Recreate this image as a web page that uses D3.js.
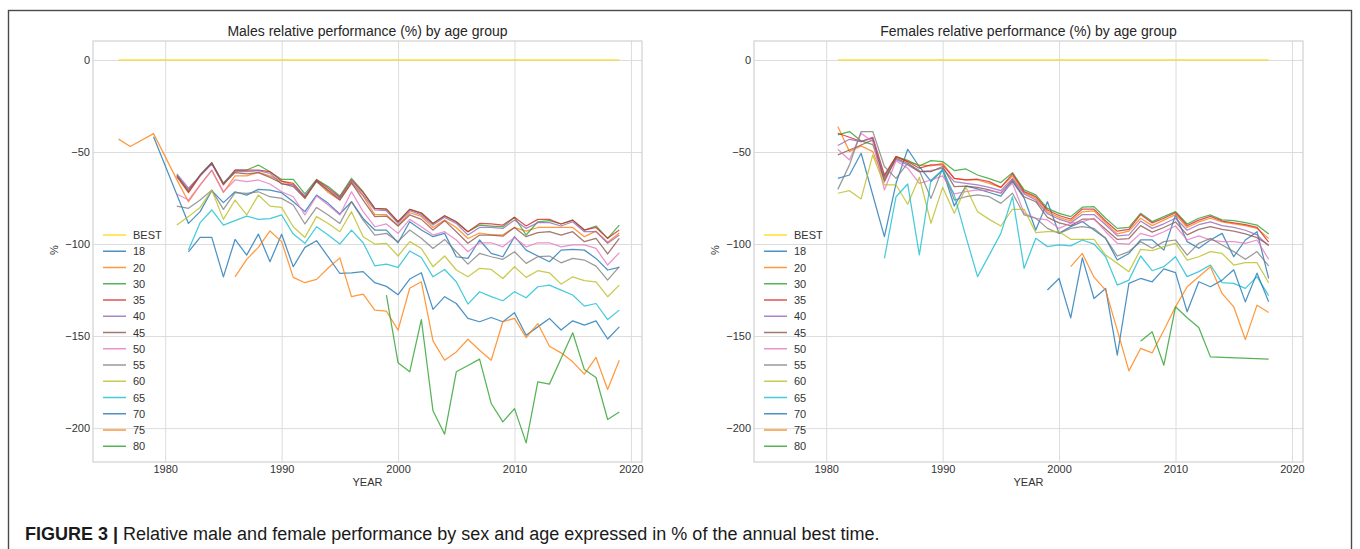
<!DOCTYPE html>
<html>
<head>
<meta charset="utf-8">
<script src="https://cdnjs.cloudflare.com/ajax/libs/d3/7.8.5/d3.min.js"></script>
<style>
body { margin: 0; background: #fff; }
svg text { font-family: "Liberation Sans", Arial, sans-serif; }
</style>
</head>
<body>
<svg id="fig" width="1360" height="549"></svg>
<script>
// ---- data ----
const ageGroups = ["BEST", "18", "20", "30", "35", "40", "45", "50", "55", "60", "65", "70", "75", "80"];
const lineColors = ["#ffd700", "#1f77b4", "#ff7f0e", "#2ca02c", "#d62728", "#9467bd", "#8c564b",
                    "#e377c2", "#7f7f7f", "#bcbd22", "#17becf", "#1f77b4", "#ff7f0e", "#2ca02c"];
const xTicks = [1980, 1990, 2000, 2010, 2020];
const yTicks = [0, -50, -100, -150, -200];

const maleYears = [1976, 1977, 1978, 1979, 1980, 1981, 1982, 1983, 1984, 1985, 1986, 1987, 1988, 1989,
  1990, 1991, 1992, 1993, 1994, 1995, 1996, 1997, 1998, 1999, 2000, 2001, 2002, 2003, 2004, 2005,
  2006, 2007, 2008, 2009, 2010, 2011, 2012, 2013, 2014, 2015, 2016, 2017, 2018, 2019];

const mBest = [0,0,0,0,0,0,0,0,0,0,0,0,0,0,0,0,0,0,0,0,0,0,0,0,0,0,0,0,0,0,0,0,0,0,0,0,0,0,0,0,0,0,0,0];
const m18 = [null,null,null,-41.7,null,null,-88.8,-82.4,-71,-77.5,-71.6,-73.4,-70.3,-70.7,-72.1,-77,-82.4,-73.4,-77.9,-83.7,-77,
  -86.1,-92.4,-92.4,-99.3,-87.9,-92.4,-96,-94.2,-106.9,-107.8,-97.8,-105.1,-106.9,-96,-103.3,-106.5,-109.6,-103.3,-102.9,-103.3,-107.8,-114.1,-112.7];
const m20 = [-43,-47,null,-40,null,-65,-77,-68,-60,-72,-63,-63,-61,-63,-66,-68,-75,-66,-72,-76,-67,
  -74,-84,-84,-90,-83,-85,-91,-87,-91,-97,-94,-95,-95,-91,-93,-91,-91,-91,-91,-96,-93,-99,-94];
const m30 = [null,null,null,null,null,-62.5,-71.6,-62.5,-55.8,-67,-59.8,-59.8,-57.1,-60.7,-64.9,-64.9,-72.8,-64.9,-68.8,-73.9,-64.3,
  -71.6,-80.6,-81,-87.9,-81.2,-83,-88.8,-84.6,-87.9,-93.3,-89.7,-90.2,-90.6,-85.5,-95.1,-87.9,-87.3,-89.1,-87,-92.4,-90.2,-96.9,-89.7];
const m35 = [null,null,null,null,null,-63.4,-72.1,-63,-56.2,-67.9,-59.8,-59.8,-59.8,-60.7,-65.8,-67,-74.3,-65.2,-69.7,-74.6,-65.2,
  -72.1,-80.6,-81,-87.9,-81.2,-83.3,-88.8,-84.6,-87.9,-93.3,-88.8,-89.1,-89.7,-85.5,-90.2,-86.6,-86.6,-89.1,-87,-92.4,-91,-96.9,-92.4];
const m40 = [null,null,null,null,null,-61.9,-69.7,-63,-56.5,-67,-60.7,-60.7,-60.1,-61.6,-67.4,-67.9,-73.9,-66.1,-70.7,-75.2,-66.1,
  -73.4,-81.5,-81.9,-88.8,-81.9,-84.2,-89.7,-85.5,-88.8,-95.1,-91,-91,-91.5,-87,-91.5,-88.4,-88.4,-90.2,-87.9,-93.3,-93.3,-99.6,-95.1];
const m45 = [null,null,null,null,null,-63,-70.7,-62.5,-55.8,-67.4,-61.2,-61.9,-61.2,-63.8,-67,-68.8,-75.2,-65.6,-71,-76.1,-66.7,
  -76.1,-85.1,-84.8,-90.2,-84.2,-86.6,-92.4,-87.3,-93.3,-99.6,-95.1,-95.1,-95.7,-91,-96,-93.8,-93.3,-95.1,-93.3,-98.7,-96.9,-105.4,-96.9];
const m50 = [null,null,null,null,null,-72.8,-76.1,-67.9,-59.8,-71.6,-65.2,-66.1,-65.2,-67.4,-71.6,-74.3,-84.2,-73.9,-78.8,-84.2,-71.6,
  -82.4,-90.6,-89.1,-94.2,-86.6,-90.6,-95.1,-93.3,-97.8,-104.2,-99.3,-99.3,-101.5,-96.4,-101.5,-99.3,-99.3,-101.5,-100.5,-100.5,-102.4,-111.4,-104.7];
const m55 = [null,null,null,null,null,-79.4,-80.6,-76.1,-70.7,-81.2,-72.1,-72.5,-71.6,-74.3,-75.2,-78.8,-89.1,-80.1,-84.2,-88.8,-77,
  -87,-95.1,-94.2,-98.7,-92.4,-96.9,-102.4,-97.5,-104.2,-110.9,-105.1,-106.9,-108.3,-104.2,-110.5,-106.9,-106.5,-110.2,-107.8,-108.7,-112,-119.6,-112.3];
const m60 = [null,null,null,null,null,-89.7,-85.1,-80.1,-70.7,-86.6,-76.1,-84.2,-73.4,-79.4,-80.1,-90.6,-96.4,-85.1,-88.8,-93.3,-82.4,
  -96,-100,-99.6,-106.5,-98.7,-102.4,-112.3,-106.5,-114.1,-117.8,-113.2,-113.8,-118.7,-112.3,-118.1,-114.5,-115.6,-121.8,-117.8,-119.9,-120.5,-128.6,-122.3];
const m65 = [null,null,null,null,null,null,-103.3,-88.4,-81.5,-89.7,-87.3,-84.8,-86.6,-86.2,-84.2,-94.6,-99.6,-90.6,-95.1,-100,-92.4,
  -99.3,-111.8,-110.9,-112.7,-103.8,-107.3,-117.8,-113.8,-120.5,-132.6,-125.9,-128.6,-130.8,-125.9,-129.2,-123.2,-122.3,-125,-127.7,-133.7,-132.3,-141,-135.9];
const m70 = [null,null,null,null,null,null,-104.2,-96.4,-96.4,-117.8,-97.5,-106,-94.6,-109.6,-94.7,-112.3,-101.8,-98.2,-107,-116,-115.6,
  -115,-121,-123,-127.5,-119,-115.6,-135.5,-128.6,-132.3,-140.4,-142.2,-139.9,-142.2,-137.3,-149.5,-145,-140.4,-146.7,-141.7,-144,-141.7,-151.6,-145];
const m75 = [null,null,null,null,null,null,null,null,null,null,-117.8,-108.3,-101.8,-92.9,-98.7,-118.1,-121,-119.2,-113,-107.5,-128.6,
  -127.2,-135.9,-136.5,-146.8,-124,-120.5,-152.6,-163.1,-158.6,-151.7,-157.7,-163.1,-142.2,-140.4,-150.8,-143.2,-155.5,-159.1,-164,-170.7,-161.6,-179,-163.1];
const m80 = [null,null,null,null,null,null,null,null,null,null,null,null,null,null,null,null,null,null,null,null,null,
  null,null,-127.8,-164.5,-169.4,-141,-190.6,-203.3,-169.4,-166,-162.5,-186.6,-196.6,-189.4,-208,-174.9,-176.1,-162.2,-148.2,-168.2,-172.5,-195.3,-191.2];

const femaleYears = [1981, 1982, 1983, 1984, 1985, 1986, 1987, 1988, 1989, 1990, 1991, 1992, 1993, 1994,
  1995, 1996, 1997, 1998, 1999, 2000, 2001, 2002, 2003, 2004, 2005, 2006, 2007, 2008, 2009, 2010,
  2011, 2012, 2013, 2014, 2015, 2016, 2017, 2018];

const fBest = [0,0,0,0,0,0,0,0,0,0,0,0,0,0,0,0,0,0,0,0,0,0,0,0,0,0,0,0,0,0,0,0,0,0,0,0,0,0];
const f18 = [-64.3,-62.5,-50.7,null,-96,-67,-48.5,-58,-66,-59.8,-79.3,-68.5,-70,-72,-74,-66,-75,-92.4,
  -77,-94.2,-90.5,-87.8,-92.4,-96.9,-108.7,-105.1,-97.8,-97.8,-103.3,-84.2,-98.7,-102.3,-97.8,-94.2,-106.9,-97.8,-93.3,-118.6];
const f20 = [-36.2,-49.8,-46.7,-49.8,-65.2,-52.5,-55.2,-57,-57.6,-56.1,-64.3,-65.2,-65.2,-67,-69.2,-63,-72.1,-75.2,
  -82.5,-85.5,-87.5,-82.5,-82,-88.5,-94.5,-93,-86,-90,-87,-84,-91,-88,-86,-88,-89,-90,-91.5,-97];
const f30 = [-40.7,-38.9,-44,-46,-63.4,-52.5,-54.5,-57.6,-54.7,-55.2,-60.1,-59.2,-62.5,-64.5,-66.6,-61.2,-70.6,-73.3,
  -80.6,-83.3,-85.1,-80,-79.7,-86,-91.5,-90.9,-83.3,-87.8,-85.1,-82.4,-89.1,-86,-84.2,-86.9,-87.3,-88.4,-89.7,-94.5];
const f35 = [-39.8,-42,-44.4,-42,-62.5,-52.5,-55.2,-58.8,-57,-57,-64.3,-65.2,-64.8,-66.1,-69.2,-61.9,-71.5,-74.2,
  -81.5,-84.5,-86.5,-81,-81,-87.5,-93,-92,-84,-88.5,-86,-83,-90,-87,-85,-87.5,-88.5,-89.5,-91,-99];
const f40 = [-46.5,-43.1,-44.4,-42.5,-64.3,-54,-57,-60.7,-60.1,-58.8,-66.1,-67,-67.9,-69.2,-71,-64.3,-72.8,-76.1,
  -83.5,-86.5,-88.5,-84,-84,-89.5,-95.5,-95,-87.5,-91.5,-89,-86,-92.5,-89.5,-88,-90,-91,-92.5,-95,-101];
const f45 = [-51.6,-48.9,-46.2,-43.4,-66.1,-53.4,-56.1,-60.7,-60.7,-57.9,-68.8,-68.5,-69.2,-70.6,-72.4,-65.2,-74.3,-77,
  -85.5,-88.5,-90,-86.5,-86.5,-92,-97.5,-97,-90,-93.5,-91,-88,-95,-92,-90.5,-92,-93,-94.5,-96.5,-100.5];
const f50 = [-48.5,-54.3,-39.8,-44.4,-70.6,-54.7,-58.8,-67,-65.2,-63,-72.8,-71.5,-70.6,-71,-72,-67,-83.3,-86,
  -86.9,-91.5,-88.7,-87.8,-86,-93.3,-99.6,-100,-94.2,-96,-93.3,-90.2,-97.8,-95.6,-97.8,-98.7,-98.7,-99.6,-97.8,-108.3];
const f55 = [-70.3,-57,-38.9,-38.9,-57.9,-64.3,-56.1,-60,-75.2,-58.8,-76.1,-74.3,-73.3,-74.3,-77.9,-72.4,-84.2,-86,
  -91.5,-94.2,-91.5,-90.6,-91.5,-96.9,-106.5,-104.1,-98.7,-102.3,-98.7,-97.8,-106,-99.6,-96.9,-100.5,-104.1,-108.3,-104.1,-111.9];
const f60 = [-72.4,-71,-75.5,-51.6,-67.9,-67.9,-78.4,-63.7,-88.7,-69.2,-83.3,-69.2,-82.4,-86.6,-90.2,-81.1,-81.1,-93.8,
  -93.3,-93.3,-97.4,-97.4,-97.4,-106,-110.5,-115,-102.9,-103.6,-101.4,-99.6,-108.7,-106.9,-104.1,-105.1,-111.4,-110.1,-110.1,-121];
const f65 = [null,null,null,null,-107.8,-74.3,-67.4,-105.9,-65.2,-59.8,-73.3,-96,-117.7,-106,-94.2,-74.3,-113.2,-96.9,
  -101.4,-100.5,-101,-97.8,-100,-106.9,-122.3,-119.6,-106.5,-114.5,-112.3,-106.9,-117.7,-115,-111.4,-121,-121.4,-124.1,-117.7,-128];
const f70 = [null,null,null,null,null,null,null,null,null,null,null,null,null,null,null,null,null,null,
  -125,-118.7,-140.1,-107.5,-129.6,-124.1,-160.4,-121.4,-118.7,-120.5,-113.5,-115.5,-136.8,-120.5,-123.2,-119.6,-114,-131.4,-115.8,-131.4];
const f75 = [null,null,null,null,null,null,null,null,null,null,null,null,null,null,null,null,null,null,
  null,null,-112.3,-105.1,-118,-125,-146.8,-168.9,-156.7,-159.1,-146.8,-134.1,-123.2,-117.8,-112.3,-126.8,-134.1,-151.9,-133.2,-137.2];
const f80 = [null,null,null,null,null,null,null,null,null,null,null,null,null,null,null,null,null,null,
  null,null,null,null,null,null,null,null,-152.8,-147.7,-165.8,-134.1,-140,-145.3,-161.3,null,null,null,null,-162.5];

const maleSeries = [mBest, m18, m20, m30, m35, m40, m45, m50, m55, m60, m65, m70, m75, m80];
const femaleSeries = [fBest, f18, f20, f30, f35, f40, f45, f50, f55, f60, f65, f70, f75, f80];

// ---- drawing ----
const svg = d3.select("#fig");
const plotTop = 41, plotBottom = 462;

// outer figure frame
svg.append("rect")
  .attr("x", 8.5).attr("y", 10.5)
  .attr("width", 1343).attr("height", 600)
  .attr("fill", "none").attr("stroke", "#4a4a4a").attr("stroke-width", 1.4);

function drawPanel(left, right, title, years, series) {
  let x = d3.scaleLinear().domain([1973.8, 2020.95]).range([left, right]);
  let y = d3.scaleLinear().domain([-218.4, 10.3]).range([plotBottom, plotTop]);
  let g = svg.append("g");
  let mid = (left + right) / 2;

  // grid
  g.append("g")
    .attr("transform", "translate(0," + plotBottom + ")")
    .call(d3.axisBottom(x).tickValues(xTicks).tickFormat(d3.format("d"))
      .tickSize(-(plotBottom - plotTop)).tickPadding(3))
    .call(a => a.select(".domain").remove())
    .call(a => a.selectAll("line").attr("stroke", "#dcdcdc").attr("stroke-width", 1))
    .call(a => a.selectAll("text").attr("fill", "#333").attr("font-size", 11));

  g.append("g")
    .attr("transform", "translate(" + left + ",0)")
    .call(d3.axisLeft(y).tickValues(yTicks).tickSize(-(right - left)).tickPadding(3))
    .call(a => a.select(".domain").remove())
    .call(a => a.selectAll("line").attr("stroke", "#dcdcdc").attr("stroke-width", 1))
    .call(a => a.selectAll("text").attr("fill", "#333").attr("font-size", 11));

  // axes frame
  g.append("rect")
    .attr("x", left).attr("y", plotTop)
    .attr("width", right - left).attr("height", plotBottom - plotTop)
    .attr("fill", "none").attr("stroke", "#d4d4d4").attr("stroke-width", 1.3);

  // lines
  let line = d3.line()
    .x(d => x(d.year))
    .y(d => y(d.value));

  series.forEach((values, i) => {
    let pts = years.map((yr, j) => ({year: yr, value: values[j]}))
      .filter(d => d.value !== null);
    g.append("path")
      .datum(pts)
      .attr("d", line)
      .attr("fill", "none")
      .attr("stroke", lineColors[i])
      .attr("stroke-width", 1.25)
      .attr("stroke-opacity", 0.8)
      .attr("stroke-linejoin", "round");
  });

  // titles and labels
  g.append("text")
    .attr("x", mid).attr("y", 36)
    .attr("text-anchor", "middle")
    .attr("font-size", 14).attr("fill", "#262626")
    .text(title);

  g.append("text")
    .attr("x", mid).attr("y", 486)
    .attr("text-anchor", "middle")
    .attr("font-size", 11).attr("fill", "#333")
    .text("YEAR");

  g.append("text")
    .attr("transform", "translate(" + (left - 35) + ",250) rotate(-90)")
    .attr("text-anchor", "middle")
    .attr("font-size", 11).attr("fill", "#333")
    .text("%");

  // legend
  let legend = g.append("g").attr("transform", "translate(" + (left + 10) + ",235)");
  ageGroups.forEach((name, i) => {
    let row = legend.append("g").attr("transform", "translate(0," + (i * 16.25) + ")");
    row.append("line")
      .attr("x1", 0).attr("x2", 23)
      .attr("stroke", lineColors[i]).attr("stroke-width", 1.5).attr("stroke-opacity", 0.8);
    row.append("text")
      .attr("x", 30).attr("y", 4)
      .attr("font-size", 11).attr("fill", "#333")
      .text(name);
  });
}

drawPanel(93, 642, "Males relative performance (%) by age group", maleYears, maleSeries);
drawPanel(754, 1303, "Females relative performance (%) by age group", femaleYears, femaleSeries);

// caption
let cap = svg.append("text")
  .attr("x", 25).attr("y", 540)
  .attr("font-size", 18).attr("fill", "#1a1a1a");
cap.append("tspan").attr("font-weight", "bold").text("FIGURE 3 | ");
cap.append("tspan").text("Relative male and female performance by sex and age expressed in % of the annual best time.");
</script>
</body>
</html>
